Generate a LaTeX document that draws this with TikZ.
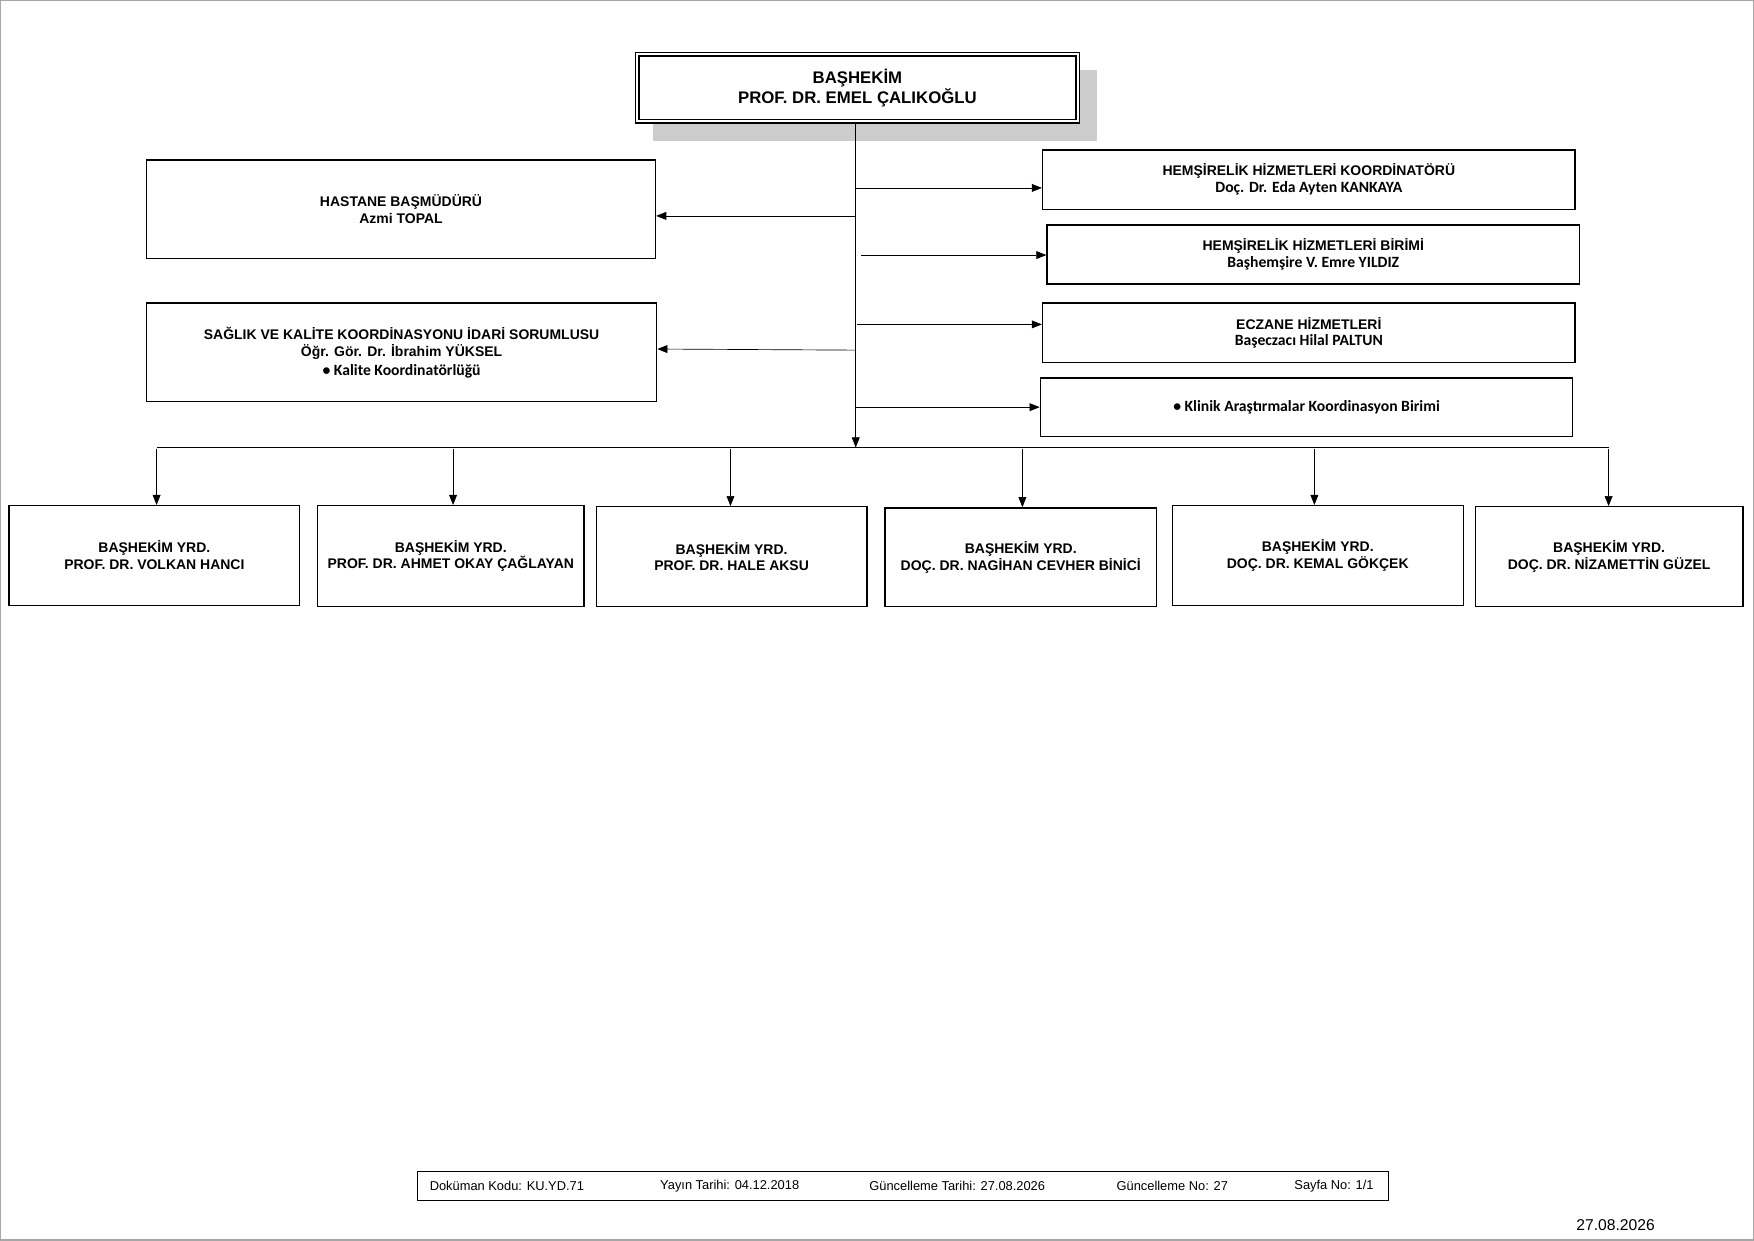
\documentclass[tikz,border=0pt]{standalone}
\usepackage{fontspec}
\setmainfont{Liberation Sans}
\newfontfamily\calib{Carlito}
\usetikzlibrary{arrows.meta}
\tikzset{
  box/.style={draw, line width=1.2pt, align=center, inner sep=0pt, font=\bfseries\fontsize{12.5}{15}\selectfont},
  arr/.style={-{Triangle[length=9pt,width=7pt]}, line width=0.6pt},
  ln/.style={line width=0.6pt}
}
\newcommand{\bx}[6]{% name, x1,y1,x2,y2, text
  \node[box, minimum width=#4-#2, minimum height=#5-#3] (#1) at ({(#2+#4)/2},{(#3+#5)/2}) {#6};}
\begin{document}
\begin{tikzpicture}[x=1pt,y=-1pt]
  % page
  \draw[gray!70, line width=1pt] (0.5,0.5) rectangle (1567.5,1108.5);
  \useasboundingbox (0,0) rectangle (1568,1109);

  % basekim
  \fill[gray!40] (584,63) rectangle (981,126);
  \node[draw, fill=white, line width=1.2pt, double, double distance=2pt, minimum width=394, minimum height=60,
        align=center, font=\bfseries\fontsize{15}{18}\selectfont] (bas) at (766.5,78.5)
        {BAŞHEKİM\\PROF. DR. EMEL ÇALIKOĞLU};

  % left side
  \bx{mud}{131}{143}{586}{231}{HASTANE BAŞMÜDÜRÜ\\Azmi TOPAL}
  \bx{kal}{131}{271}{587}{359}{SAĞLIK VE KALİTE KOORDİNASYONU İDARİ SORUMLUSU\\Öğr. Gör. Dr. İbrahim YÜKSEL\\[2pt]{\calib\fontsize{14}{16}\selectfont • Kalite Koordinatörlüğü}}

  % right side
  \bx{hko}{932}{134}{1408}{187}{HEMŞİRELİK HİZMETLERİ KOORDİNATÖRÜ\\{\calib\fontsize{14}{17}\selectfont Doç. Dr. Eda Ayten KANKAYA}}
  \bx{hbi}{936}{201}{1412}{254}{HEMŞİRELİK HİZMETLERİ BİRİMİ\\{\calib\fontsize{14}{17}\selectfont Başhemşire V. Emre YILDIZ}}
  \bx{ecz}{932}{271}{1408}{324}{ECZANE HİZMETLERİ\\{\calib\fontsize{14}{17}\selectfont Başeczacı Hilal PALTUN}}
  \bx{kli}{930}{338}{1406}{390}{{\calib\fontsize{14}{17}\selectfont • Klinik Araştırmalar Koordinasyon Birimi}}

  % trunk
  \coordinate (t0) at (765,110);
  \coordinate (t1) at (765,400);
  \draw[arr] (bas.south -| t0) -- (t1);
  \coordinate (a1) at (765,168);
  \coordinate (a2) at (770,228);
  \coordinate (a3) at (766,290);
  \coordinate (a4) at (765,364);
  \coordinate (b1) at (765,193);
  \coordinate (b2) at (765,313);
  \draw[arr] (a1) -- (hko.west |- a1);
  \draw[arr] (a2) -- (hbi.west |- a2);
  \draw[arr] (a3) -- (ecz.west |- a3);
  \draw[arr] (a4) -- (kli.west |- a4);
  \draw[arr] (b1) -- (mud.east |- b1);
  \draw[arr] (b2) -- (kal.east |- 0,312);

  % yardimcilar
  \bx{y1}{8}{452}{268}{541}{BAŞHEKİM YRD.\\PROF. DR. VOLKAN HANCI}
  \bx{y2}{284}{452}{522}{542}{BAŞHEKİM YRD.\\PROF. DR. AHMET OKAY ÇAĞLAYAN}
  \bx{y3}{533}{453}{775}{542}{BAŞHEKİM YRD.\\PROF. DR. HALE AKSU}
  \bx{y4}{791}{454}{1034}{542}{BAŞHEKİM YRD.\\DOÇ. DR. NAGİHAN CEVHER BİNİCİ}
  \bx{y5}{1048}{452}{1308}{541}{BAŞHEKİM YRD.\\DOÇ. DR. KEMAL GÖKÇEK}
  \bx{y6}{1319}{453}{1558}{542}{BAŞHEKİM YRD.\\DOÇ. DR. NİZAMETTİN GÜZEL}

  \draw[ln] (140,400) -- (1438,400);
  \foreach \x/\n in {140/y1,405/y2,653/y3,914/y4,1175/y5,1438/y6}
    \draw[arr] (\x,401) -- (\x,0 |- \n.north);

  % footer
  \node[draw, line width=1pt, minimum width=868, minimum height=26, inner sep=0pt] (foot) at (807,1060) {};
  \begin{scope}[every node/.style={anchor=west, inner sep=0pt, font=\fontsize{11.5}{13}\selectfont}]
    \node (f1) at (384,1060) {Doküman Kodu: KU.YD.71};
    \node (f2) at (590,1060) {Yayın Tarihi: 04.12.2018};
    \node (f3) at (777,1060) {Güncelleme Tarihi: 27.08.2026};
    \node (f4) at (998,1060) {Güncelleme No: 27};
    \node (f5) at (1157,1060) {Sayfa No: 1/1};
  \end{scope}
  \node[anchor=west, inner sep=0pt, font=\fontsize{14}{16}\selectfont] (dt) at (1409,1095) {27.08.2026};
\end{tikzpicture}
\end{document}
